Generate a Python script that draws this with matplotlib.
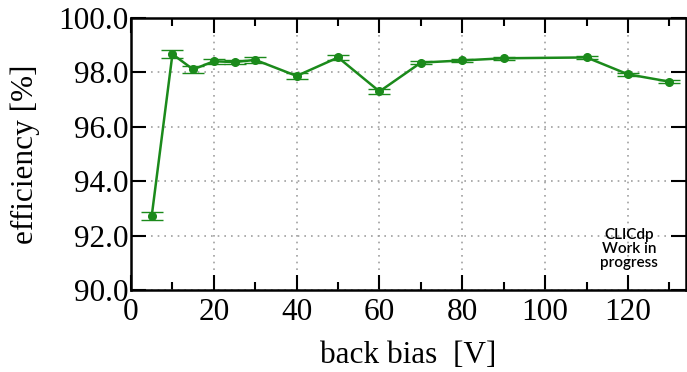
import matplotlib
matplotlib.use("Agg")
import matplotlib.pyplot as plt
from matplotlib.ticker import MultipleLocator, FormatStrFormatter

bias = [5, 10, 15, 20, 25, 30, 40, 50, 60, 70, 80, 90, 110, 120, 130]
eff = [92.72, 98.67, 98.11, 98.41, 98.38, 98.46, 97.87, 98.55, 97.30,
       98.36, 98.44, 98.52, 98.55, 97.93, 97.66]
err = [0.13, 0.14, 0.13, 0.10, 0.08, 0.10, 0.12, 0.08, 0.08,
       0.05, 0.05, 0.05, 0.06, 0.05, 0.05]

green = '#1b8a1b'
plt.rcParams['font.family'] = ['Liberation Serif', 'DejaVu Serif']

fig = plt.figure(figsize=(6.87, 3.72), dpi=100)
ax = fig.add_axes([0.1907, 0.2204, 0.8078, 0.7312])

ax.errorbar(bias, eff, yerr=err, color=green, lw=1.8, marker='o', ms=5.5,
            capsize=8, elinewidth=1.0, capthick=1.0, zorder=3)

ax.set_xlim(0, 134)
ax.set_ylim(90, 100)
ax.xaxis.set_major_locator(MultipleLocator(20))
ax.xaxis.set_minor_locator(MultipleLocator(10))
ax.yaxis.set_major_locator(MultipleLocator(2))
ax.yaxis.set_major_formatter(FormatStrFormatter('%.1f'))

ax.grid(True, which='major', color='#a0a0a0', linestyle=(0, (1, 3)), lw=1.2)
ax.tick_params(which='both', direction='in', top=True, right=True, width=1.5)
ax.tick_params(which='major', length=11, labelsize=22.5)
ax.tick_params(axis='x', which='major', pad=6)
ax.tick_params(axis='y', which='major', pad=2)
ax.tick_params(which='minor', length=6)
for s in ax.spines.values():
    s.set_linewidth(1.8)

ax.set_xlabel('back bias  [V]', fontsize=22.5, labelpad=10)
ax.set_ylabel('efficiency [%]', fontsize=22.5, labelpad=13)

ax.text(0.897, 0.15, 'CLICdp\nWork in\nprogress', transform=ax.transAxes,
        ha='center', va='center', fontsize=11, family='Lato',
        fontweight='semibold', linespacing=1.0, zorder=4)

fig.savefig('out.png', dpi=100)
